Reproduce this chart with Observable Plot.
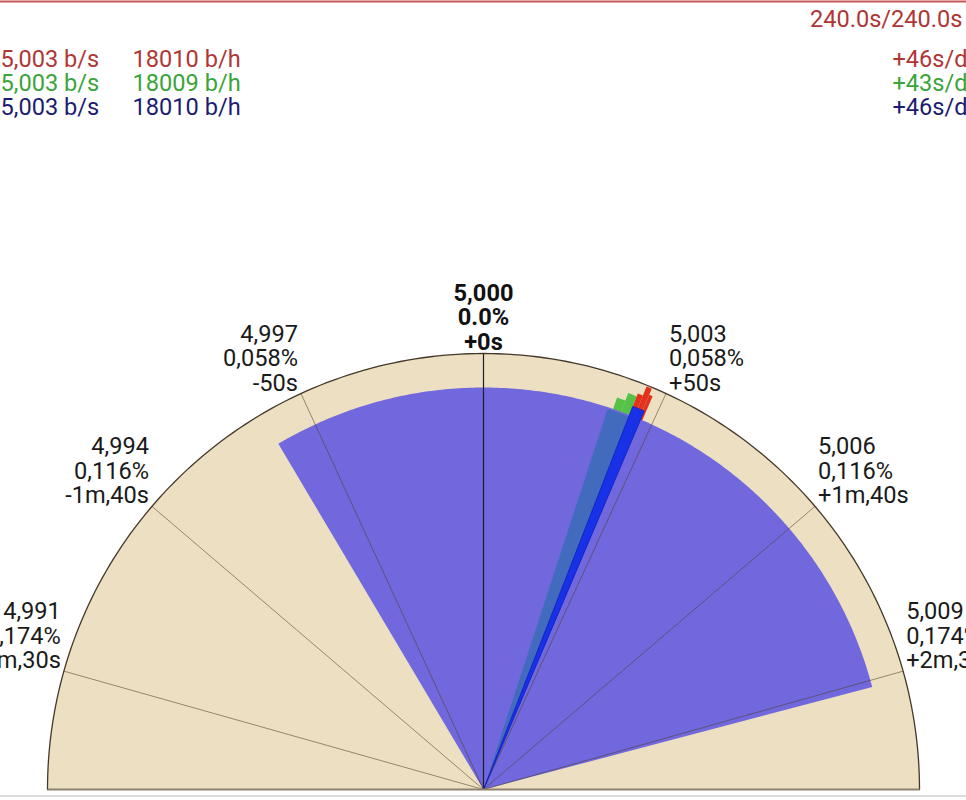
<!DOCTYPE html>
<html><head><meta charset="utf-8">
<script src="https://cdn.jsdelivr.net/npm/d3@7"></script>
<script src="https://cdn.jsdelivr.net/npm/@observablehq/plot@0.6"></script>
<style>
html,body{margin:0;padding:0;background:#fff;overflow:hidden;}
#chart svg{display:block;}
</style></head><body><div id="chart"></div>
<script>
// ---------- data ----------
const channels = ["red", "green", "blue"];
const beatsPerSecond = ["5,003 b/s", "5,003 b/s", "5,003 b/s"];
const beatsPerHour = ["18010 b/h", "18009 b/h", "18010 b/h"];
const rateLabels = ["+46s/d", "+43s/d", "+46s/d"];
const channelColors = ["#b03636", "#3aa43a", "#1c1c70"];
const elapsedLabel = "240.0s/240.0s";

const tickSeconds = [-150, -100, -50, 0, 50, 100, 150];
const tickBeats = ["4,991", "4,994", "4,997", "5,000", "5,003", "5,006", "5,009"];
const tickPercent = ["0,174%", "0,116%", "0,058%", "0.0%", "0,058%", "0,116%", "0,174%"];
const tickOffset = ["-2m,30s", "-1m,40s", "-50s", "+0s", "+50s", "+1m,40s", "+2m,30s"];

// spread of readings (s/d) and its relative length
const spreadStart = -62, spreadEnd = 152, spreadLength = 0.922;
// recent-reading histograms per channel (s/d bins, relative length)
const tealStart = [36.5], tealEnd = [43.5], tealLength = [0.918];
const greenBinStart = [38, 40.5], greenBinEnd = [40.5, 43], greenBinLength = [0.95, 0.968];
const redBinStart = [43, 44.5, 46], redBinEnd = [44.5, 46, 47], redBinLength = [0.975, 0.997, 0.982];
const blueBinStart = [43], blueBinEnd = [46.5], blueBinLength = [0.943];

// ---------- geometry ----------
const W = 966, H = 800, R = 436, CX = 483, CY = 789;
const degPerSec = 0.495;
const rad = s => s * degPerSec * Math.PI / 180;
const px = p => (CY - p) / R; // pixel row -> y units

function wedge(s0, s1, r, id) {
  const pts = [{x: 0, y: 0, id}];
  const n = Math.max(2, Math.ceil(Math.abs(s1 - s0)));
  for (let i = 0; i <= n; i++) {
    const t = rad(s0 + (s1 - s0) * i / n);
    pts.push({x: r * Math.sin(t), y: r * Math.cos(t), id});
  }
  pts.push({x: 0, y: 0, id});
  return pts;
}
function bins(starts, ends, lens, tag) {
  return starts.flatMap((s, i) => wedge(s, ends[i], lens[i], tag + i));
}
// dial background (half disc, -90..+90 degrees)
const dialArc = d3.range(0, 181).map(a => {
  const t = (a - 90) * Math.PI / 180;
  return {x: Math.sin(t), y: Math.cos(t)};
});

const ticks = tickSeconds.map((s, i) => ({
  s, x: Math.sin(rad(s)), y: Math.cos(rad(s)),
  label: tickBeats[i] + "\n" + tickPercent[i] + "\n" + tickOffset[i]
}));

const font = 23.6;
const headerMarks = [
  Plot.text([elapsedLabel], {frameAnchor: "top-right", dx: -4, dy: 26, lineAnchor: "bottom",
    text: d => d, fill: channelColors[0], fontSize: font})
];
channels.forEach((c, i) => {
  const dy = 66 + 24 * i;
  headerMarks.push(
    Plot.text([beatsPerSecond[i]], {frameAnchor: "top-left", dx: 0, dy, lineAnchor: "bottom", textAnchor: "start",
      text: d => d, fill: channelColors[i], fontSize: font}),
    Plot.text([beatsPerHour[i]], {frameAnchor: "top-left", dx: 132, dy, lineAnchor: "bottom", textAnchor: "start",
      text: d => d, fill: channelColors[i], fontSize: font}),
    Plot.text([rateLabels[i]], {frameAnchor: "top-right", dx: 1, dy, lineAnchor: "bottom", textAnchor: "end",
      text: d => d, fill: channelColors[i], fontSize: font})
  );
});

const chart = Plot.plot({
  width: W, height: H,
  margin: 0,
  style: {fontFamily: "Roboto, sans-serif", fontSize: "23px", background: "#fff", overflow: "hidden"},
  x: {domain: [-CX / R, (W - CX) / R], axis: null},
  y: {domain: [(CY - H) / R, CY / R], axis: null},
  marks: [
    Plot.ruleY([px(1)], {stroke: "#c9575a", strokeWidth: 2}),
    Plot.ruleY([px(795.5)], {stroke: "#d0d0d0", strokeWidth: 1.5}),
    // dial
    Plot.line([{x: 0, y: 0}, ...dialArc, {x: 0, y: 0}], {x: "x", y: "y", fill: "#ecdfc2", stroke: "none"}),
    // needles behind spread
    Plot.line(bins(greenBinStart, greenBinEnd, greenBinLength, "g"), {x: "x", y: "y", z: "id", fill: "#55c247", stroke: "none"}),
    Plot.line(bins(redBinStart, redBinEnd, redBinLength, "r"), {x: "x", y: "y", z: "id", fill: "#e2321e", stroke: "none"}),
    // spread wedge
    Plot.line(wedge(spreadStart, spreadEnd, spreadLength, "spread"), {x: "x", y: "y", fill: "#7168dd", stroke: "none"}),
    // tick lines
    Plot.link(ticks.filter(d => d.s !== 0), {x1: 0, y1: 0, x2: "x", y2: "y", stroke: "#4d3f28", strokeOpacity: 0.55, strokeWidth: 1}),
    Plot.link(ticks.filter(d => d.s === 0), {x1: 0, y1: 0, x2: "x", y2: "y", stroke: "#1e1e2a", strokeWidth: 1.2}),
    // needles on top
    Plot.line(bins(tealStart, tealEnd, tealLength, "t"), {x: "x", y: "y", z: "id", fill: "#3a6cb8", stroke: "none", fillOpacity: 0.85}),
    Plot.line(bins(blueBinStart, blueBinEnd, blueBinLength, "b"), {x: "x", y: "y", z: "id", fill: "#1830e6", stroke: "#0e1ec2", strokeWidth: 0.8}),
    // outer arc and base
    Plot.line(dialArc, {x: "x", y: "y", stroke: "#43382a", strokeWidth: 1.3}),
    Plot.link([0], {x1: -1, y1: 0, x2: 1, y2: 0, stroke: "#8d826c", strokeWidth: 2}),
    // tick labels
    Plot.text(ticks.filter(d => d.s < 0), {x: "x", y: "y", text: "label", textAnchor: "end", lineAnchor: "bottom",
      dx: -3, dy: -3, fontSize: font, lineHeight: 24.5 / font, fill: "#1a1a1a"}),
    Plot.text(ticks.filter(d => d.s > 0), {x: "x", y: "y", text: "label", textAnchor: "start", lineAnchor: "bottom",
      dx: 3, dy: -3, fontSize: font, lineHeight: 24.5 / font, fill: "#1a1a1a"}),
    Plot.text(ticks.filter(d => d.s === 0), {x: "x", y: "y", text: "label", textAnchor: "middle", lineAnchor: "bottom",
      dy: -4, fontSize: font, lineHeight: 24.5 / font, fontWeight: "bold", fill: "#111"}),
    ...headerMarks
  ]
});
document.getElementById("chart").append(chart);
</script></body></html>
